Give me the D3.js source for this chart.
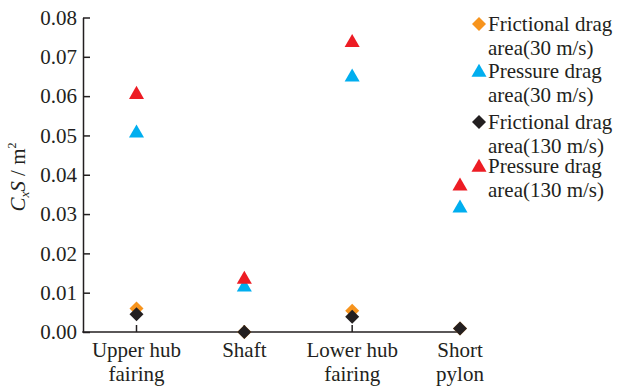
<!DOCTYPE html>
<html>
<head>
<meta charset="utf-8">
<script src="https://cdn.jsdelivr.net/npm/d3@7"></script>
</head>
<body style="margin:0">
<svg id="fig" width="617" height="386"></svg>
<script>
// Components along the x axis (each label on two lines)
const categories = ["Upper hub fairing", "Shaft", "Lower hub fairing", "Short pylon"];
const categoryLines = [["Upper hub", "fairing"], ["Shaft"], ["Lower hub", "fairing"], ["Short", "pylon"]];

// Drag area C_xS (m²) per component
const frictional30 = [0.0060, 0.0000, 0.0054, 0.0009];
const pressure30 = [0.0506, 0.0114, 0.0648, 0.0315];
const frictional130 = [0.0045, 0.0000, 0.0039, 0.0009];
const pressure130 = [0.0604, 0.0134, 0.0736, 0.0371];

const yTicks = [0, 0.01, 0.02, 0.03, 0.04, 0.05, 0.06, 0.07, 0.08];

const seriesNames = [
  ["Frictional drag", "area(30 m/s)"],
  ["Pressure drag", "area(30 m/s)"],
  ["Frictional drag", "area(130 m/s)"],
  ["Pressure drag", "area(130 m/s)"]
];
const seriesValues = [frictional30, pressure30, frictional130, pressure130];
const seriesColors = ["#f7941d", "#00aeef", "#231f20", "#ed1c24"];
const seriesShapes = ["diamond", "triangle", "diamond", "triangle"];

const FONT = "\"Liberation Serif\"";
const axisColor = "#231f20";
const fontSize = 21;
const svg = d3.select("#fig");

const x = d3.scalePoint().domain(categories).range([136.5, 460]);
const y = d3.scaleLinear().domain([0, 0.08]).range([332, 17.5]);
const xLeft = 83;

const symTri = d3.symbol(d3.symbolTriangle, 98)();
const symDia = d3.symbol(d3.symbolSquare, 98)();
function shapePath(s) { return s === "triangle" ? symTri : symDia; }
function shapeRot(s) { return s === "triangle" ? "" : " rotate(45)"; }

// Serif text helper
function label(parent) {
  return parent.append("text")
    .style("font-family", FONT)
    .attr("font-size", fontSize)
    .attr("fill", axisColor);
}

// Y axis line and inward ticks
const yAxis = svg.append("g")
  .attr("transform", `translate(${xLeft},0)`)
  .call(d3.axisLeft(y).tickValues(yTicks).tickSize(-7).tickSizeOuter(0).tickFormat(""));
yAxis.select(".domain").attr("stroke", axisColor).attr("stroke-width", 1.5);
yAxis.selectAll(".tick line").attr("stroke", axisColor).attr("stroke-width", 1.5);
yAxis.selectAll(".tick text").remove();

// Y tick labels
const yLab = svg.append("g");
yTicks.forEach(v => {
  label(yLab)
    .attr("x", xLeft - 6).attr("y", y(v)).attr("dy", "0.35em")
    .attr("text-anchor", "end")
    .text(d3.format(".2f")(v));
});

// X axis baseline and inward ticks
svg.append("line")
  .attr("x1", xLeft - 0.75).attr("x2", x(categories[categories.length - 1]))
  .attr("y1", y(0)).attr("y2", y(0))
  .attr("stroke", axisColor).attr("stroke-width", 1.5);
svg.append("g").selectAll("line").data(categories).join("line")
  .attr("x1", d => x(d)).attr("x2", d => x(d))
  .attr("y1", y(0)).attr("y2", y(0) - 7)
  .attr("stroke", axisColor).attr("stroke-width", 1.5);

// X labels
const xg = svg.append("g");
categories.forEach((c, i) => {
  const t = label(xg).attr("text-anchor", "middle").attr("x", x(c)).attr("y", 357);
  categoryLines[i].forEach((line, j) => {
    t.append("tspan").attr("x", x(c)).attr("dy", j === 0 ? 0 : 24).text(line);
  });
});

// Y title: C_xS / m²
const yt = label(svg)
  .attr("transform", "translate(25,177) rotate(-90)")
  .attr("text-anchor", "middle");
yt.append("tspan").attr("font-style", "italic").text("C");
yt.append("tspan").attr("font-style", "italic").attr("font-size", 13).attr("dy", 4).text("x");
yt.append("tspan").attr("font-style", "italic").attr("dy", -4).text("S");
yt.append("tspan").text(" / m");
yt.append("tspan").attr("font-size", 12).attr("dy", -9).text("2");

// Data markers, drawn in series order
seriesValues.forEach((vals, si) => {
  svg.append("g").selectAll("path").data(vals).join("path")
    .attr("d", shapePath(seriesShapes[si]))
    .attr("fill", seriesColors[si])
    .attr("transform", (v, i) => `translate(${x(categories[i])},${y(v)})${shapeRot(seriesShapes[si])}`);
});

// Legend
const legendRows = [24, 71, 122, 166];
const legend = svg.append("g");
seriesNames.forEach((lines, si) => {
  const cy = legendRows[si];
  const off = seriesShapes[si] === "triangle" ? 1.5 : 0;
  legend.append("path")
    .attr("d", shapePath(seriesShapes[si]))
    .attr("fill", seriesColors[si])
    .attr("transform", `translate(479,${cy + off})${shapeRot(seriesShapes[si])}`);
  const t = label(legend).attr("x", 488).attr("y", cy + 7);
  lines.forEach((line, j) => {
    t.append("tspan").attr("x", 488).attr("dy", j === 0 ? 0 : 24).text(line);
  });
});
</script>
</body>
</html>
